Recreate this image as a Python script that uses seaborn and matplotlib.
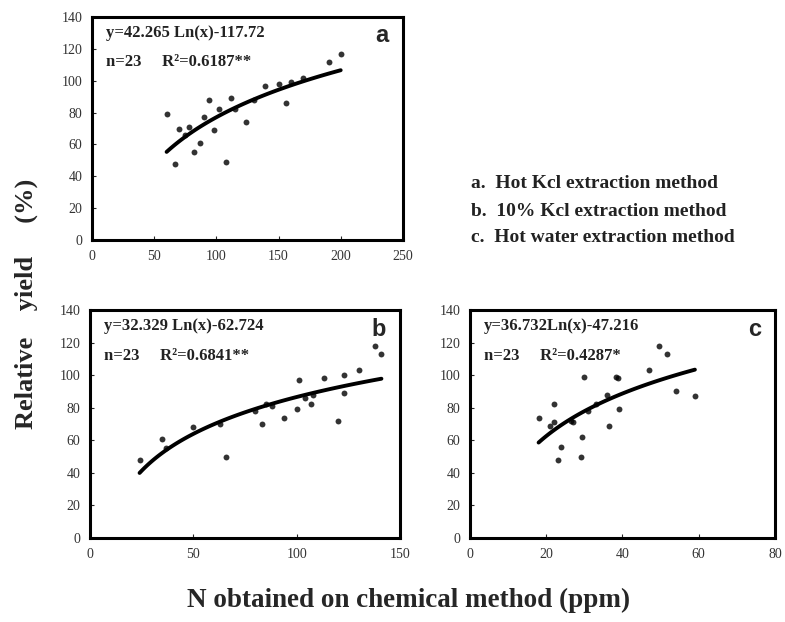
#!/usr/bin/env python3
"""
Relative yield vs. N obtained by three chemical extraction methods,
with logarithmic fits (y = a Ln(x) + b) for each panel.
"""

import matplotlib.pyplot as plt
import seaborn as sns

# panel a: hot KCl extraction
a_x = [60, 67, 70, 75, 78, 82, 87, 90, 94, 98, 102, 108, 112, 115, 124, 130,
       139, 150, 156, 160, 170, 191, 200]
a_y = [79, 48, 70, 66, 71, 55, 61, 77, 88, 69, 82, 49, 89, 82, 74, 88,
       97, 98, 86, 99, 102, 112, 117]

# panel b: 10% KCl extraction
b_x = [24, 35, 37, 50, 63, 66, 80, 83, 85, 88, 94, 100, 101, 104, 107, 108,
       113, 120, 123, 123, 130, 138, 141]
b_y = [48, 61, 55, 68, 70, 50, 78, 70, 82, 81, 74, 79, 97, 86, 82, 88,
       98, 72, 89, 100, 103, 118, 113]

# panel c: hot water extraction
c_x = [18, 21, 22, 22, 23, 24, 26.5, 27, 29, 29.5, 30, 31, 33, 36, 36.5,
       38.3, 38.7, 39, 47, 49.7, 51.7, 54, 59]
c_y = [74, 69, 82, 71, 48, 56, 72, 71, 50, 62, 99, 78, 82, 88, 69,
       99, 98, 79, 103, 118, 113, 90, 87]

equations = ["y=42.265 Ln(x)-117.72", "y=32.329 Ln(x)-62.724", "y=36.732Ln(x)-47.216"]
stats = ["n=23     R²=0.6187**", "n=23     R²=0.6841**", "n=23     R²=0.4287*"]
letters = ["a", "b", "c"]
x_limits = [250, 150, 80]
x_steps = [50, 50, 20]
methods = [
    "a.  Hot Kcl extraction method",
    "b.  10% Kcl extraction method",
    "c.  Hot water extraction method",
]

sns.set_style("white")
plt.rcParams["font.family"] = ["Liberation Serif", "DejaVu Serif"]

fig = plt.figure(figsize=(7.85, 6.22), dpi=100)
ax_a = fig.add_axes([0.1172, 0.6141, 0.396, 0.3585])
ax_b = fig.add_axes([0.1146, 0.135, 0.395, 0.3666])
ax_c = fig.add_axes([0.5987, 0.135, 0.3885, 0.3666])

panels = [(ax_a, a_x, a_y), (ax_b, b_x, b_y), (ax_c, c_x, c_y)]

for i, (ax, xs, ys) in enumerate(panels):
    sns.regplot(
        x=xs, y=ys, ax=ax, logx=True, ci=None, truncate=True,
        scatter_kws={"s": 18, "color": "black", "linewidths": 0},
        line_kws={"color": "black", "lw": 2.8},
    )
    ax.set_xlim(0, x_limits[i])
    ax.set_ylim(0, 140)
    ax.set_xticks(range(0, x_limits[i] + 1, x_steps[i]))
    ax.set_yticks(range(0, 141, 20))
    ax.tick_params(axis="both", direction="in", length=3, width=0.8,
                   labelsize=10, labelcolor="#333333", pad=7,
                   left=True, bottom=True)
    for spine in ax.spines.values():
        spine.set_visible(True)
        spine.set_color("black")
        spine.set_linewidth(2.2)
    ax.text(0.045, 0.93, equations[i], transform=ax.transAxes,
            fontsize=12, fontweight="bold", color="#222222", va="center")
    ax.text(0.045, 0.80, stats[i], transform=ax.transAxes,
            fontsize=12, fontweight="bold", color="#222222", va="center")
    ax.text(0.955, 0.915, letters[i], transform=ax.transAxes,
            fontsize=17, fontweight="bold", family="Liberation Sans",
            ha="right", va="center")

for j, label in enumerate(methods):
    fig.text(0.6, 1 - (184 + 27 * j) / 622, label, fontsize=14,
             fontweight="bold", color="#222222", va="center")

fig.text(0.034, 0.511, "Relative    yield     (%)", rotation=90,
         fontsize=19, fontweight="bold", ha="center", va="center")
fig.text(0.521, 0.035, "N obtained on chemical method (ppm)",
         fontsize=19.5, fontweight="bold", ha="center", va="center")

fig.savefig("out.png", dpi=100)
